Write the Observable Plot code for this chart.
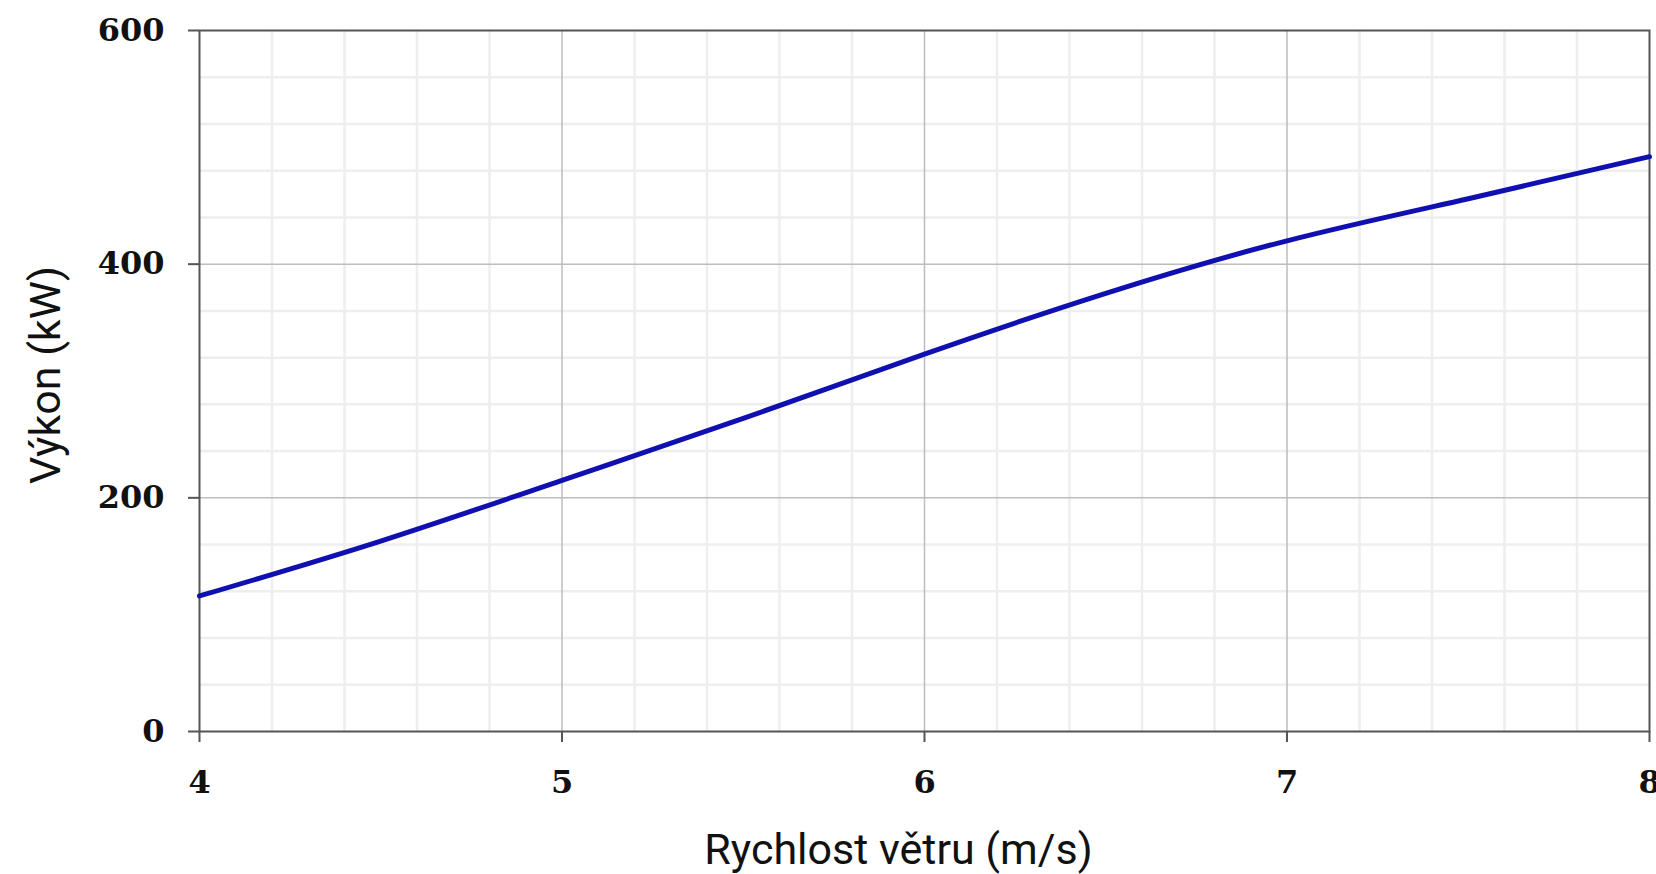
<!DOCTYPE html>
<html>
<head>
<meta charset="utf-8">
<script src="https://cdn.jsdelivr.net/npm/d3@7"></script>
<script src="https://cdn.jsdelivr.net/npm/@observablehq/plot@0.6"></script>
<style>
  html, body { margin: 0; padding: 0; background: #fff; }
  #chart svg { display: block; }
</style>
</head>
<body>
<div id="chart"></div>
<script>
const windSpeed = [4, 4.5, 5, 5.5, 6, 6.5, 7, 7.5, 8];
const power = [116, 163, 215, 268, 323, 375, 420, 456, 492];
const xTicks = [4, 5, 6, 7, 8];
const yTicks = [0, 200, 400, 600];
const xMinor = [4.2, 4.4, 4.6, 4.8, 5.2, 5.4, 5.6, 5.8, 6.2, 6.4, 6.6, 6.8, 7.2, 7.4, 7.6, 7.8];
const yMinor = [40, 80, 120, 160, 240, 280, 320, 360, 440, 480, 520, 560];
const xMajorGrid = [5, 6, 7];
const yMajorGrid = [200, 400];
const xLabel = "Rychlost větru (m/s)";
const yLabel = "Výkon (kW)";

const data = windSpeed.map((x, i) => ({x, y: power[i]}));

const chart = Plot.plot({
  width: 1656,
  height: 874,
  marginLeft: 199,
  marginTop: 30,
  marginRight: 7,
  marginBottom: 143,
  style: {background: "#fff"},
  x: {domain: [4, 8]},
  y: {domain: [0, 600]},
  marks: [
    Plot.gridX(xMinor, {stroke: "#eeeeee", strokeOpacity: 1, strokeWidth: 2.5}),
    Plot.gridY(yMinor, {stroke: "#eeeeee", strokeOpacity: 1, strokeWidth: 2.5}),
    Plot.gridX(xMajorGrid, {stroke: "#bdbdbd", strokeOpacity: 1, strokeWidth: 1.5}),
    Plot.gridY(yMajorGrid, {stroke: "#bdbdbd", strokeOpacity: 1, strokeWidth: 1.5}),
    Plot.frame({stroke: "#555", strokeWidth: 2}),
    Plot.line(data, {x: "x", y: "y", stroke: "#1010b0", strokeWidth: 5, curve: "natural"}),
    Plot.axisX(xTicks, {tickSize: 11, tickPadding: 28, stroke: "#555", strokeWidth: 2,
      fontFamily: "DejaVu Serif", fontWeight: "bold", fontSize: 32, fill: "#111", label: null, tickFormat: d => String(d)}),
    Plot.axisY(yTicks, {tickSize: 11, tickPadding: 24, stroke: "#555", strokeWidth: 2,
      fontFamily: "DejaVu Serif", fontWeight: "bold", fontSize: 32, fill: "#111", label: null, tickFormat: d => String(d)}),
    Plot.text([xLabel], {text: d => d, frameAnchor: "bottom", textAnchor: "middle", lineAnchor: "middle", dx: -26, dy: 119,
      fontFamily: "Roboto", fontSize: 43, fill: "#111"}),
    Plot.text([yLabel], {text: d => d, frameAnchor: "left", textAnchor: "middle", lineAnchor: "middle", dx: -153, dy: -6, rotate: -90,
      fontFamily: "Roboto", fontSize: 43, fill: "#111"})
  ]
});
document.getElementById("chart").appendChild(chart);
</script>
</body>
</html>
